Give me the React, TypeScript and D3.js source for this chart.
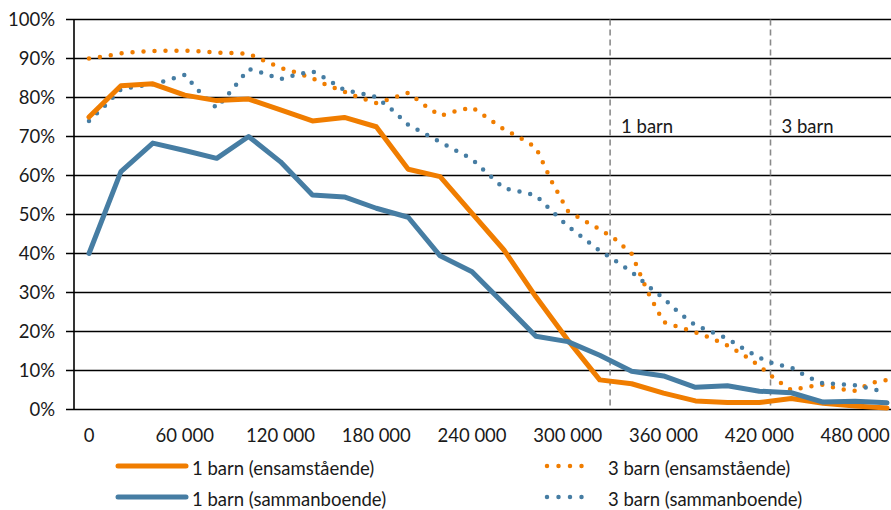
import React from 'react';
import * as d3 from 'd3';

// income steps (thousand kr) for the dotted series, every 10 000
const incomeK10 = [
  0, 10, 20, 30, 40, 50, 60, 70, 80, 90, 100, 110, 120, 130, 140, 150, 160, 170, 180, 190, 200,
  210, 220, 230, 240, 250, 260, 270, 280, 290, 300, 310, 320, 330, 340, 350, 360, 370, 380, 390,
  400, 410, 420, 430, 440, 450, 460, 470, 480, 490, 500
];
// income steps for the solid series, every 20 000
const incomeK20 = [
  0, 20, 40, 60, 80, 100, 120, 140, 160, 180, 200, 220, 240, 260, 280, 300, 320, 340, 360, 380,
  400, 420, 440, 460, 480, 500
];

const ensam1 = [
  75, 83, 83.5, 80.6, 79.2, 79.6, 76.8, 74, 74.9, 72.5, 61.6, 59.7, 50.3, 40.9, 28.9, 17.8, 7.6,
  6.6, 4.2, 2.2, 1.8, 1.8, 2.8, 1.6, 0.9, 0.4
];
const samman1 = [
  40, 61, 68.3, 66.4, 64.4, 70, 63.5, 55, 54.5, 51.6, 49.3, 39.4, 35.3, 27.1, 18.8, 17.4, 13.9,
  9.8, 8.6, 5.7, 6.1, 4.7, 4.3, 1.9, 2.1, 1.7
];
const ensam3 = [
  90.0, 90.6, 91.3, 91.7, 91.9, 92, 92, 91.8, 91.5, 91.4, 91.2, 89.4, 87.6, 86.4, 84.9, 83.0,
  81.5, 79.9, 78.6, 79.8, 81.2, 78.1, 75.3, 76.5, 77.5, 74.7, 71.8, 69.7, 67.2, 58.4, 50.9, 48.5,
  46.2, 43.6, 39.9, 30.2, 22.4, 21.1, 19.8, 18.3, 16.4, 14.0, 11.2, 7.8, 5.0, 5.8, 6.4, 5.3, 4.8,
  6.8, 7.6
];
const samman3 = [
  74.0, 77.9, 82.1, 82.8, 83.4, 84.5, 85.8, 81.1, 77.3, 82.2, 87.3, 86.2, 84.7, 85.9, 86.7, 84.5,
  81.9, 81.1, 80.1, 76.8, 73.0, 70.8, 68.6, 66.4, 64.2, 60.4, 56.7, 55.9, 54.9, 50.9, 47.0, 43.9,
  40.7, 38.1, 35.3, 31.8, 28.5, 24.7, 21.6, 19.9, 18.2, 15.6, 13.3, 11.6, 10.8, 8.4, 6.7, 6.5,
  6.2, 5.4, 4.3
];

const xTicks = [0, 60000, 120000, 180000, 240000, 300000, 360000, 420000, 480000];
const yTicks = [0, 10, 20, 30, 40, 50, 60, 70, 80, 90, 100];
const limits = [
  { value: 326500, label: '1 barn' },
  { value: 427000, label: '3 barn' }
];

const ORANGE = '#F07D00';
const BLUE = '#467DA3';
const FONT = 'Lato, "Open Sans", sans-serif';
const FS = 18.5;

export default function App(): JSX.Element {
  const width = 891;
  const height = 510;
  const x = d3.scaleLinear().domain([0, 500000]).range([89, 887]);
  const y = d3.scaleLinear().domain([0, 100]).range([409.5, 19.5]);
  const axisX = 74;

  const fmt = d3.formatLocale({ decimal: ',', thousands: ' ', grouping: [3], currency: ['', ' kr'] }).format(',d');

  const line = d3
    .line<[number, number]>()
    .x((d) => x(d[0]))
    .y((d) => y(d[1]));

  const series = [
    { values: ensam1, inc: incomeK20, color: ORANGE, dotted: false },
    { values: samman1, inc: incomeK20, color: BLUE, dotted: false },
    { values: ensam3, inc: incomeK10, color: ORANGE, dotted: true },
    { values: samman3, inc: incomeK10, color: BLUE, dotted: true }
  ];
  const drawOrder = [2, 3, 0, 1];

  const legend = [
    { label: '1 barn (ensamstående)', color: ORANGE, dotted: false, x0: 118, x1: 186, tx: 192, ly: 466 },
    { label: '1 barn (sammanboende)', color: BLUE, dotted: false, x0: 118, x1: 186, tx: 192, ly: 497 },
    { label: '3 barn (ensamstående)', color: ORANGE, dotted: true, x0: 547, x1: 593, tx: 608, ly: 466 },
    { label: '3 barn (sammanboende)', color: BLUE, dotted: true, x0: 547, x1: 593, tx: 608, ly: 497 }
  ];

  return (
    <svg
      width={width}
      height={height}
      style={{ position: 'absolute', left: 0, top: 0, background: '#fff' }}
      fontFamily={FONT}
    >
      {/* grid + y labels */}
      {yTicks.map((t) => (
        <g key={t}>
          <line x1={66} x2={width} y1={y(t)} y2={y(t)} stroke="#000" strokeWidth={1.6} />
          <text x={55} y={y(t) + 6.5} textAnchor="end" fontSize={FS} fill="#1a1a1a">
            {t}%
          </text>
        </g>
      ))}
      <line x1={axisX} x2={axisX} y1={y(100)} y2={y(0)} stroke="#000" strokeWidth={1.6} />

      {/* x labels */}
      {xTicks.map((t) => (
        <text key={t} x={x(t)} y={442} textAnchor="middle" fontSize={FS} fill="#1a1a1a">
          {fmt(t)}
        </text>
      ))}

      {/* limit lines */}
      {limits.map((l) => (
        <g key={l.label}>
          <line
            x1={x(l.value)}
            x2={x(l.value)}
            y1={y(100)}
            y2={y(0)}
            stroke="#8a8a8a"
            strokeWidth={1.6}
            strokeDasharray="6 4"
          />
          <text x={x(l.value) + 11} y={y(71)} fontSize={FS} fill="#1a1a1a">
            {l.label}
          </text>
        </g>
      ))}

      {/* series */}
      {drawOrder.map((i) => {
        const s = series[i];
        const pts = s.values.map((v, j) => [s.inc[j] * 1000, v] as [number, number]);
        return (
          <path
            key={i}
            d={line(pts) || ''}
            fill="none"
            stroke={s.color}
            strokeWidth={s.dotted ? 4.5 : 5}
            strokeLinecap="round"
            strokeLinejoin="round"
            strokeDasharray={s.dotted ? '0 11' : undefined}
          />
        );
      })}

      {/* legend */}
      {legend.map((l) => (
        <g key={l.label}>
          <line
            x1={l.x0}
            x2={l.x1}
            y1={l.ly}
            y2={l.ly}
            stroke={l.color}
            strokeWidth={l.dotted ? 4.5 : 5}
            strokeLinecap="round"
            strokeDasharray={l.dotted ? '0 11.5' : undefined}
          />
          <text x={l.tx} y={l.ly + 9} fontSize={FS} fill="#1a1a1a">
            {l.label}
          </text>
        </g>
      ))}
    </svg>
  );
}
